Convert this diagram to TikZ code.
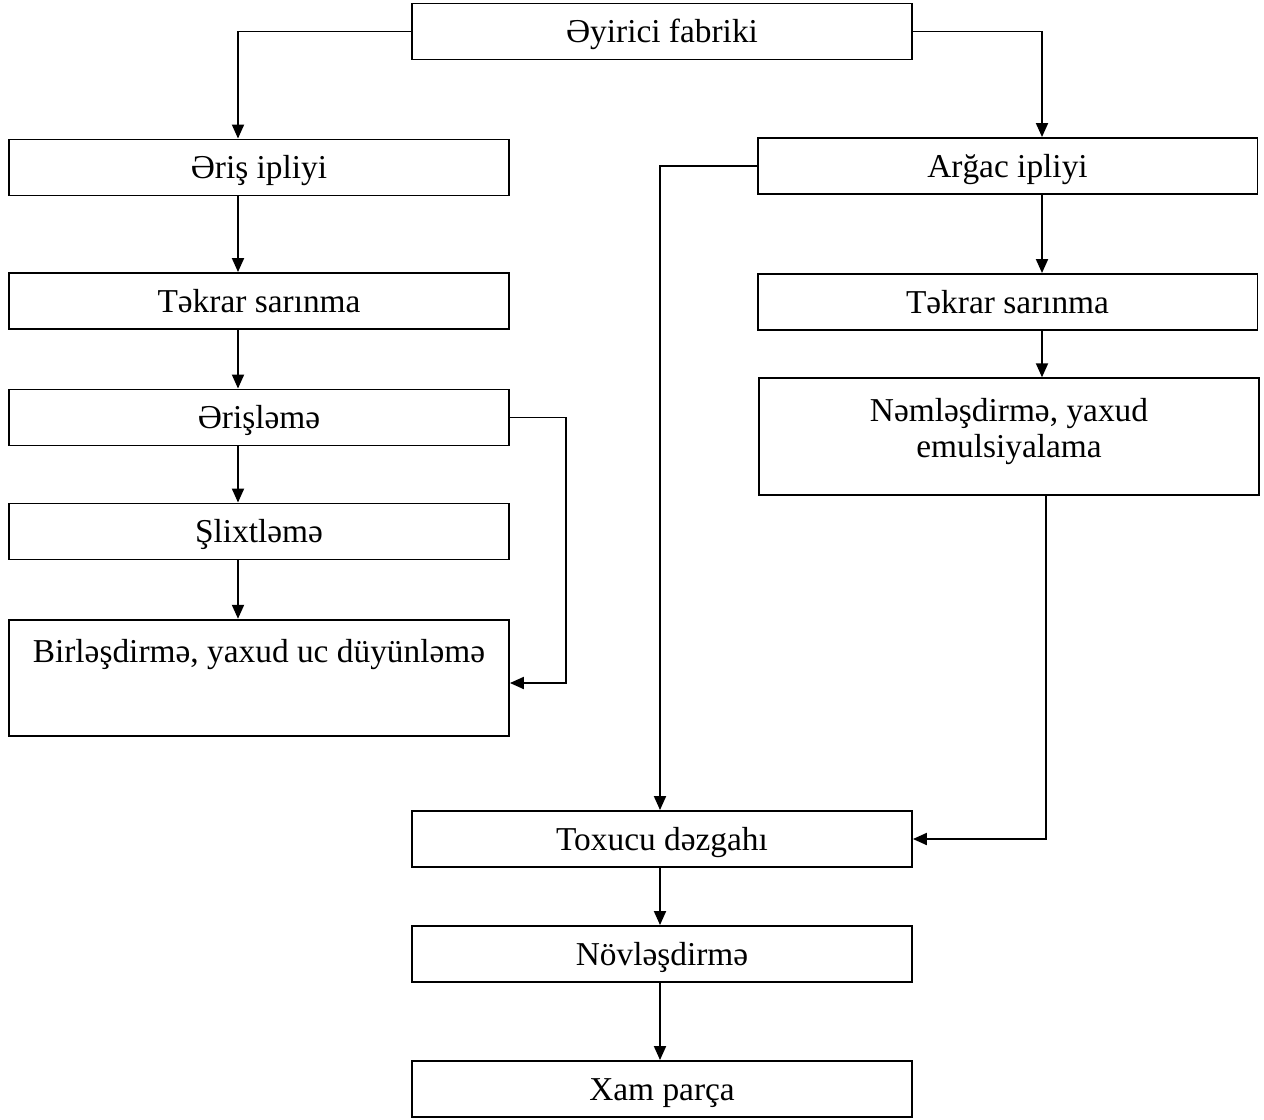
\documentclass[tikz,border=0pt]{standalone}
\usepackage{fontspec}
\setmainfont{Liberation Serif}
\usetikzlibrary{calc,arrows.meta}

\begin{document}
\begin{tikzpicture}[
  x=0.02cm, y=-0.02cm,
  every node/.style={font=\fontsize{19}{20.4}\selectfont},
  frame/.style={rectangle, draw, line width=1.1pt, minimum width=10cm, inner sep=0pt},
  box/.style={frame, minimum height=1.12cm, text height=17pt, text depth=4pt},
  tall/.style={frame, minimum height=2.33cm, align=center},
  arr/.style={draw, line width=1.1pt, -{Triangle[length=2.8mm,width=2.4mm]}}
]
\useasboundingbox (0,0) rectangle (1264,1119);
\node[box] (fabrik) at (662,31.5) {Əyirici fabriki};
\node[box] (erish) at (259,167.5) {Əriş ipliyi};
\node[box] (tekL) at (259,301) {Təkrar sarınma};
\node[box] (erishleme) at (259,417.5) {Ərişləmə};
\node[box] (slixt) at (259,531.5) {Şlixtləmə};
\node[tall] (birles) at (259,678) {Birləşdirmə, yaxud uc düyünləmə\\[11pt]\mbox{}};
\node[box] (argac) at (1007.5,166) {Arğac ipliyi};
\node[box] (tekR) at (1007.5,302) {Təkrar sarınma};
\node[tall] (neml) at (1009,436.5) {Nəmləşdirmə, yaxud\\emulsiyalama\\[-10.5pt]\mbox{}};
\node[box] (toxucu) at (662,839) {Toxucu dəzgahı};
\node[box] (novl) at (662,954) {Növləşdirmə};
\node[box] (xam) at (662,1089) {Xam parça};

\coordinate (lx) at (238,0);
\coordinate (rx) at (1042,0);
\coordinate (mx) at (660,0);
\coordinate (nx) at (1046,0);
\coordinate (bturn) at (566,683);

\draw[arr] (fabrik.west) -| (erish.north -| lx);
\draw[arr] (fabrik.east) -| (argac.north -| rx);
\draw[arr] (erish.south -| lx) -- (tekL.north -| lx);
\draw[arr] (tekL.south -| lx) -- (erishleme.north -| lx);
\draw[arr] (erishleme.south -| lx) -- (slixt.north -| lx);
\draw[arr] (slixt.south -| lx) -- (birles.north -| lx);
\draw[arr] (erishleme.east) -| (bturn) -- (bturn -| birles.east);
\draw[arr] (argac.south -| rx) -- (tekR.north -| rx);
\draw[arr] (tekR.south -| rx) -- (neml.north -| rx);
\draw[arr] (argac.west) -| (toxucu.north -| mx);
\draw[arr] (neml.south -| nx) |- (toxucu.east);
\draw[arr] (toxucu.south -| mx) -- (novl.north -| mx);
\draw[arr] (novl.south -| mx) -- (xam.north -| mx);
\end{tikzpicture}
\end{document}
